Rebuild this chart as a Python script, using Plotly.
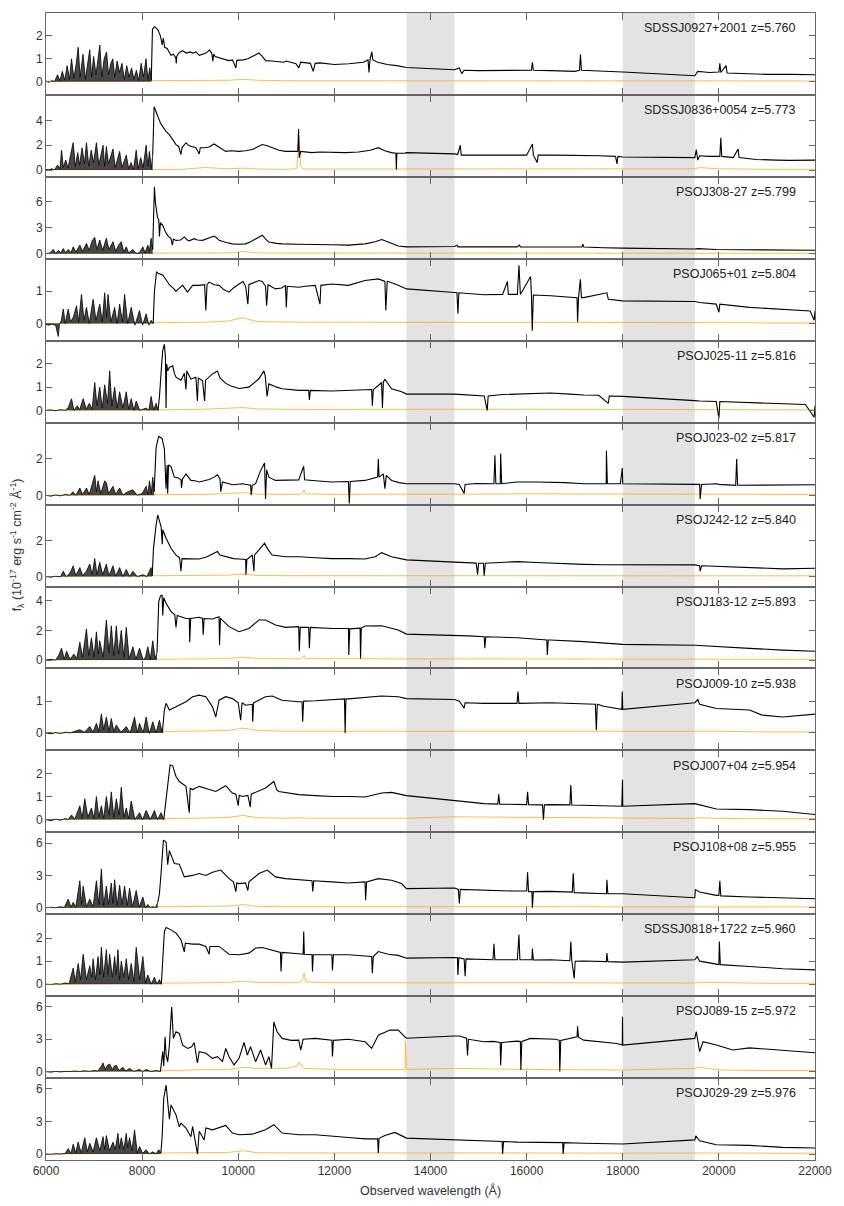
import plotly.graph_objects as go
from plotly.subplots import make_subplots

# Quasar names / redshifts, top to bottom
NAMES = ["SDSSJ0927+2001", "SDSSJ0836+0054", "PSOJ308-27", "PSOJ065+01", "PSOJ025-11",
         "PSOJ023-02", "PSOJ242-12", "PSOJ183-12", "PSOJ009-10", "PSOJ007+04",
         "PSOJ108+08", "SDSSJ0818+1722", "PSOJ089-15", "PSOJ029-29"]
REDSHIFTS = ["5.760", "5.773", "5.799", "5.804", "5.816", "5.817", "5.840",
             "5.893", "5.938", "5.954", "5.955", "5.960", "5.972", "5.976"]
# wavelength where the Lyman forest ends
BREAKS = [8190, 8220, 8220, 8230, 8330, 8250, 8210, 8310, 8420, 8450, 8325, 8400, 8380, 8390]

Y_MIN = [-0.58, -0.55, -0.58, -0.53, -0.53, -0.51, -0.55, -0.56, -0.55, -0.55, -0.6, -0.52, -0.6, -0.55]
Y_MAX = [3.0, 6.05, 8.9, 2.0, 3.0, 4.0, 4.0, 4.95, 2.03, 3.0, 7.0, 3.04, 7.0, 7.0]
Y_TICKS = [[0, 1, 2], [0, 2, 4], [0, 3, 6], [0, 1], [0, 1, 2], [0, 2], [0, 2], [0, 2, 4],
           [0, 1], [0, 1, 2], [0, 3, 6], [0, 1, 2], [0, 3, 6], [0, 3, 6]]
X_TICKS = [6000, 8000, 10000, 12000, 14000, 16000, 18000, 20000, 22000]
GAPS = [(13500, 14500), (18000, 19500)]

# spectra: (wavelength [A], flux [1e-17 erg/s/cm2/A])
SPEC_0927 = [(6000,0.02),(6060,-0.03),(6120,0.04),(6180,0.01),(6240,0.3),(6290,0.04),(6340,0.45),(6390,0.06),(6440,0.7),(6490,0.1),(6530,1.0),(6580,0.15),(6630,0.8),(6670,1.5),(6710,0.2),(6770,1.2),(6820,0.1),(6870,0.9),(6910,1.4),(6950,0.2),(6990,1.1),(7040,0.3),(7080,0.9),(7120,1.6),(7160,0.2),(7210,1.0),(7260,1.3),(7300,0.3),(7350,0.8),(7390,1.0),(7430,0.2),(7480,0.9),(7530,0.4),(7580,0.8),(7630,0.1),(7680,0.7),(7730,0.2),(7780,0.6),(7830,0.1),(7880,0.5),(7930,0.05),(7980,0.8),(8030,0.2),(8080,1.0),(8120,0.1),(8160,0.6),(8190,0.05),
             (8215,2.3),(8260,2.4),(8330,2.25),(8380,2.0),(8420,1.6),(8440,1.9),(8470,1.5),(8520,1.45),(8560,1.3),(8600,1.15),(8650,1.2),(8700,1.05),(8710,0.8),(8720,1.1),(8760,1.25),(8840,1.35),(8920,1.25),(9000,1.3),(9060,1.25),(9120,1.3),(9190,1.15),(9260,1.2),(9330,1.25),(9400,1.38),(9450,1.25),(9470,0.9),(9490,1.2),(9520,1.1),(9600,1.05),(9700,1.0),(9800,0.92),(9880,0.95),(9950,0.6),(9970,0.93),(10100,0.95),(10200,1.0),(10300,1.1),(10430,1.25),(10500,1.1),(10570,0.92),(10700,0.9),(10850,0.88),(10950,0.85),(11000,0.9),(11200,0.78),(11260,0.6),(11300,0.85),(11500,0.8),(11560,0.45),(11600,0.8),(11700,0.82),(12000,0.75),(12300,0.78),(12600,0.85),(12700,0.95),(12720,0.4),(12740,0.95),(12780,1.3),(12800,0.95),(12900,0.85),(13100,0.75),(13300,0.7),(13500,0.62),
             (14500,0.52),(14600,0.6),(14650,0.35),(14700,0.5),(15000,0.48),(15500,0.5),(16000,0.5),(16100,0.5),(16120,0.84),(16140,0.5),(16500,0.48),(17000,0.45),(17100,0.5),(17120,1.2),(17140,0.5),(17500,0.48),(17800,0.45),(18000,0.42),
             (19500,0.26),(19560,0.45),(19700,0.42),(19800,0.4),(20000,0.42),(20020,0.8),(20040,0.4),(20150,0.7),(20170,0.38),(20500,0.35),(21000,0.32),(21500,0.32),(22000,0.3)]

SPEC_0836 = [(6000,0.05),(6060,0.0),(6120,0.1),(6180,0.02),(6240,0.4),(6290,0.1),(6324,1.6),(6360,0.2),(6410,0.8),(6460,0.15),(6510,1.2),(6566,2.2),(6610,0.3),(6660,1.4),(6700,0.4),(6750,1.8),(6800,0.5),(6842,2.2),(6890,0.3),(6940,1.6),(6990,0.6),(7049,2.2),(7100,0.4),(7150,1.5),(7187,2.0),(7220,0.3),(7256,1.9),(7300,0.5),(7350,1.2),(7394,1.7),(7440,0.2),(7490,1.0),(7532,1.5),(7580,0.2),(7630,0.8),(7670,1.2),(7720,0.1),(7770,0.6),(7820,0.05),(7877,1.6),(7920,0.1),(7970,1.0),(8020,0.2),(8084,2.0),(8120,0.3),(8153,1.5),(8190,0.1),(8220,1.2),
             (8250,5.1),(8290,4.7),(8325,4.3),(8380,3.8),(8429,3.5),(8500,3.1),(8567,2.85),(8636,2.4),(8705,2.05),(8760,1.9),(8808,1.25),(8830,1.8),(8912,2.2),(8980,1.95),(9050,1.85),(9120,1.8),(9188,1.3),(9210,1.8),(9300,1.8),(9395,1.85),(9499,2.1),(9560,1.95),(9601,1.8),(9740,1.5),(9850,1.55),(10016,1.5),(10150,1.55),(10292,1.65),(10400,1.85),(10499,2.05),(10600,1.95),(10706,1.8),(10850,1.6),(10982,1.5),(11150,1.5),(11240,1.5),(11255,3.3),(11270,1.0),(11300,1.5),(11531,1.4),(11700,1.45),(12000,1.4),(12221,1.4),(12500,1.45),(12750,1.6),(12911,1.8),(13050,1.55),(13187,1.4),(13280,1.35),(13290,0.05),(13300,1.35),(13463,1.35),(13500,1.4),
             (14500,1.3),(14567,1.25),(14620,2.0),(14640,1.2),(14980,1.2),(15200,1.2),(15670,1.2),(16000,1.2),(16120,2.1),(16140,1.2),(16220,0.6),(16240,1.2),(16600,1.2),(16913,1.2),(17300,1.15),(17500,1.15),(17850,1.1),(17880,0.5),(17900,1.1),(18000,1.05),
             (19500,1.0),(19530,1.65),(19560,0.8),(19600,1.15),(19800,1.1),(20020,1.1),(20040,2.6),(20060,1.1),(20300,1.0),(20400,1.7),(20420,1.0),(20775,0.85),(21200,0.8),(21465,0.78),(22000,0.8)]

SPEC_308 = [(6000,0.02),(6080,0.1),(6152,0.5),(6200,0.05),(6260,0.4),(6310,0.1),(6359,0.6),(6410,0.1),(6460,0.5),(6520,0.15),(6566,0.8),(6620,0.2),(6704,1.0),(6760,0.3),(6842,1.2),(6900,0.4),(6960,1.5),(7014,1.9),(7060,0.5),(7118,1.6),(7180,0.4),(7256,1.8),(7310,0.5),(7394,1.4),(7450,0.3),(7510,1.0),(7566,1.4),(7620,0.2),(7670,0.8),(7720,0.1),(7808,0.5),(7870,0.05),(7940,0.1),(8015,0.8),(8060,0.1),(8118,1.0),(8150,0.3),(8187,1.8),(8220,0.5),
            (8256,7.75),(8275,6.0),(8290,5.4),(8320,4.2),(8346,3.95),(8360,2.0),(8380,3.6),(8429,3.3),(8480,2.6),(8532,2.1),(8601,1.75),(8630,1.0),(8650,1.7),(8705,1.55),(8800,1.6),(8877,1.95),(8940,1.6),(8981,1.5),(9084,1.75),(9150,1.6),(9257,1.55),(9400,1.8),(9499,2.05),(9560,1.8),(9601,1.55),(9750,1.3),(9878,1.15),(10000,1.1),(10154,1.15),(10260,1.4),(10361,1.75),(10499,2.15),(10570,1.7),(10637,1.35),(10800,1.2),(10913,1.15),(11258,1.1),(11603,1.1),(11948,1.05),(12293,1.0),(12638,1.15),(12850,1.4),(12983,1.65),(13121,1.35),(13328,0.9),(13500,0.8),
            (14500,0.85),(14550,1.0),(14570,0.8),(15000,0.8),(15807,0.8),(15850,1.0),(15870,0.8),(16500,0.78),(17150,0.8),(17170,1.1),(17190,0.78),(17600,0.7),(18000,0.65),
            (19500,0.55),(19560,0.6),(19946,0.5),(20637,0.47),(21300,0.45),(22000,0.4)]

SPEC_065 = [(6000,-0.03),(6060,-0.05),(6120,-0.02),(6200,-0.05),(6255,-0.4),(6280,-0.02),(6320,0.1),(6359,0.45),(6400,0.0),(6463,0.45),(6510,0.05),(6570,0.2),(6635,0.55),(6680,0.05),(6738,0.9),(6790,0.1),(6842,0.5),(6900,0.0),(6980,0.75),(7040,0.1),(7118,0.6),(7170,0.05),(7221,0.95),(7260,0.2),(7290,0.9),(7350,0.05),(7428,0.5),(7480,0.0),(7532,0.6),(7590,0.05),(7635,0.9),(7700,0.0),(7773,0.5),(7850,-0.05),(7946,0.4),(8010,-0.05),(8084,0.3),(8140,-0.05),(8187,0.1),(8230,0.0),
            (8256,1.0),(8300,1.6),(8330,1.55),(8429,1.5),(8500,1.35),(8567,1.2),(8640,1.1),(8705,1.0),(8780,1.1),(8843,1.18),(8946,0.97),(9000,1.1),(9050,1.18),(9188,1.18),(9300,1.2),(9326,0.4),(9350,1.2),(9395,1.28),(9500,1.2),(9601,1.18),(9700,1.05),(9809,0.97),(9900,1.1),(10016,1.22),(10100,1.3),(10154,1.15),(10200,0.6),(10223,1.2),(10300,1.25),(10430,1.33),(10500,1.3),(10568,1.15),(10590,0.55),(10620,1.2),(10775,1.07),(10900,1.1),(10982,1.18),(11000,0.5),(11020,1.15),(11258,1.12),(11400,1.15),(11603,1.18),(11700,0.6),(11720,1.18),(11948,1.22),(12293,1.18),(12638,1.33),(12914,1.38),(13052,1.3),(13070,0.4),(13100,1.3),(13121,1.3),(13328,1.18),(13500,1.07),
            (14500,0.96),(14550,0.95),(14570,0.3),(14590,0.95),(15117,0.89),(15500,0.9),(15600,1.3),(15620,0.9),(15807,0.9),(15841,1.8),(15870,0.9),(16083,1.45),(16100,0.9),(16117,-0.22),(16140,0.88),(16497,0.86),(17049,0.8),(17060,0.05),(17080,0.8),(17118,1.37),(17140,0.8),(17187,0.8),(17670,0.95),(17700,0.75),(18000,0.7),
            (19500,0.68),(19600,0.65),(19946,0.6),(20000,0.35),(20020,0.6),(20637,0.5),(21327,0.44),(21900,0.39),(21983,0.1),(22000,0.39)]

SPEC_025 = [(6000,0.0),(6100,0.02),(6200,-0.02),(6300,0.03),(6400,0.0),(6460,0.1),(6531,0.5),(6580,0.0),(6650,0.2),(6700,0.02),(6773,0.5),(6840,0.05),(6900,0.3),(6960,0.05),(7014,1.2),(7060,0.2),(7118,1.0),(7170,0.1),(7221,1.1),(7280,0.3),(7325,1.7),(7370,0.2),(7428,1.0),(7480,0.1),(7532,0.8),(7600,0.1),(7670,0.8),(7720,0.05),(7773,0.5),(7830,0.0),(7877,0.4),(7950,0.0),(8020,0.05),(8084,0.1),(8140,0.0),(8187,0.6),(8240,0.0),(8290,0.3),(8330,0.0),
            (8360,0.57),(8400,1.8),(8429,2.57),(8463,2.85),(8485,2.3),(8498,0.1),(8510,2.0),(8532,1.7),(8567,1.85),(8636,1.92),(8670,1.6),(8705,1.43),(8808,1.3),(8880,1.6),(8912,0.9),(8930,1.7),(9015,1.35),(9119,1.43),(9150,0.4),(9170,1.4),(9257,1.27),(9300,0.4),(9320,1.3),(9464,1.57),(9567,1.69),(9620,1.4),(9740,1.16),(9850,1.05),(10016,0.94),(10223,1.0),(10430,1.36),(10534,1.7),(10560,1.5),(10600,0.6),(10637,1.14),(10800,1.0),(10913,0.93),(11258,0.86),(11465,0.86),(11480,0.45),(11500,0.86),(11948,0.83),(12300,0.85),(12638,0.86),(12776,0.9),(12790,0.2),(12810,0.9),(12914,1.07),(12983,1.2),(13000,0.1),(13020,1.25),(13052,1.33),(13190,0.93),(13400,0.8),(13500,0.7),
            (14500,0.7),(14800,0.65),(15117,0.62),(15180,0.0),(15200,0.62),(15500,0.68),(15807,0.7),(16200,0.72),(16497,0.75),(16900,0.7),(17187,0.66),(17500,0.65),(17700,0.3),(17720,0.62),(18000,0.6),
            (19500,0.42),(19600,0.4),(19946,0.38),(20000,-0.35),(20020,0.38),(20637,0.33),(21300,0.28),(21800,0.25),(21983,-0.3),(22000,0.2)]

SPEC_023 = [(6000,0.0),(6100,-0.05),(6200,0.02),(6300,-0.03),(6400,0.05),(6500,0.0),(6560,0.2),(6620,0.0),(6704,0.4),(6760,0.05),(6842,0.4),(6900,0.05),(6960,0.6),(7014,1.1),(7050,0.2),(7083,0.8),(7140,0.1),(7221,0.8),(7256,0.7),(7300,0.1),(7394,0.5),(7450,0.05),(7532,0.4),(7600,0.02),(7700,0.2),(7808,0.3),(7900,0.0),(8000,0.1),(8084,0.5),(8120,0.05),(8153,0.8),(8190,0.1),(8222,1.0),(8250,0.2),
            (8291,2.64),(8346,3.24),(8415,3.13),(8463,2.55),(8490,1.0),(8498,0.36),(8520,1.67),(8532,0.1),(8550,1.67),(8601,1.58),(8670,1.0),(8750,0.95),(8808,0.87),(8820,0.4),(8840,0.9),(8912,1.18),(9015,0.82),(9100,0.8),(9188,0.73),(9300,0.8),(9395,0.87),(9500,1.0),(9567,1.13),(9620,0.9),(9636,0.2),(9671,0.73),(9878,0.58),(10085,0.64),(10257,0.55),(10270,0.0),(10292,0.55),(10361,0.64),(10465,1.36),(10547,1.78),(10568,-0.2),(10590,1.4),(10637,1.0),(10775,0.82),(11000,0.85),(11258,0.85),(11362,1.6),(11380,0.85),(11600,0.8),(11948,0.73),(12100,0.75),(12293,0.76),(12310,-0.45),(12330,0.76),(12638,0.82),(12900,1.0),(12914,2.0),(12930,1.0),(13018,1.18),(13052,0.36),(13080,1.1),(13190,0.82),(13350,0.7),(13500,0.64),
            (14500,0.64),(14600,0.6),(14700,0.1),(14720,0.6),(14950,0.65),(15117,0.64),(15320,0.64),(15340,2.2),(15360,0.64),(15450,0.64),(15460,2.3),(15480,0.64),(15807,0.73),(16200,0.73),(16497,0.73),(16800,0.7),(17187,0.64),(17656,0.64),(17660,2.45),(17680,0.64),(17950,0.64),(17990,1.5),(18000,0.64),
            (19500,0.64),(19600,0.6),(19610,-0.2),(19640,0.6),(19946,0.64),(20000,0.6),(20350,0.55),(20370,2.0),(20390,0.55),(20637,0.55),(21327,0.55),(22000,0.58)]

SPEC_242 = [(6000,0.0),(6100,-0.03),(6200,0.02),(6300,-0.02),(6359,0.3),(6420,0.0),(6500,0.2),(6566,0.6),(6620,0.05),(6704,0.5),(6760,0.05),(6840,0.3),(6911,0.7),(6960,0.1),(7014,1.0),(7060,0.1),(7118,0.8),(7180,0.1),(7256,0.7),(7310,0.05),(7394,0.6),(7450,0.02),(7532,0.5),(7600,0.0),(7670,0.4),(7740,0.0),(7808,0.3),(7900,0.0),(8015,0.1),(8100,0.0),(8187,0.5),(8210,0.05),
            (8236,1.57),(8291,2.87),(8325,3.43),(8394,2.78),(8420,1.8),(8429,2.6),(8498,2.13),(8601,1.57),(8705,1.2),(8780,1.05),(8808,0.3),(8830,1.0),(8843,1.0),(9000,0.98),(9188,0.98),(9350,1.1),(9464,1.24),(9567,1.39),(9620,1.2),(9740,1.1),(9900,1.0),(10016,0.98),(10154,0.95),(10160,0.1),(10180,0.95),(10292,1.2),(10326,0.3),(10340,1.2),(10465,1.57),(10547,1.85),(10620,1.5),(10706,1.2),(10982,1.1),(11258,1.1),(11600,1.05),(11948,1.0),(12300,1.0),(12638,0.98),(12850,1.1),(12983,1.33),(13100,1.2),(13190,1.1),(13500,0.93),
            (14500,0.83),(14800,0.8),(14950,0.75),(14980,0.1),(15000,0.74),(15100,0.74),(15117,0.05),(15140,0.74),(15400,0.78),(15807,0.83),(16200,0.78),(16497,0.74),(17187,0.68),(17600,0.66),(18000,0.65),
            (19500,0.65),(19600,0.6),(19610,0.3),(19640,0.6),(19900,0.58),(20637,0.5),(21327,0.43),(22000,0.46)]

SPEC_183 = [(6000,0.0),(6100,0.05),(6200,0.0),(6260,0.3),(6324,0.8),(6380,0.05),(6428,0.6),(6500,0.05),(6580,0.4),(6640,0.1),(6704,1.2),(6760,0.2),(6842,2.1),(6890,0.3),(6945,1.5),(7000,0.2),(7049,1.9),(7090,0.4),(7118,1.3),(7190,0.2),(7256,2.7),(7310,0.5),(7359,2.3),(7410,0.3),(7463,2.3),(7510,0.4),(7566,2.0),(7620,0.2),(7670,2.2),(7730,0.1),(7808,0.9),(7870,0.05),(7946,0.8),(8020,0.0),(8070,0.2),(8118,0.9),(8170,0.05),(8222,1.3),(8270,0.1),(8310,0.5),
            (8346,3.93),(8380,4.3),(8415,4.38),(8429,3.0),(8450,4.2),(8498,3.82),(8601,3.26),(8680,3.05),(8705,2.2),(8730,3.0),(8912,2.8),(8981,2.8),(8990,1.2),(9010,2.8),(9188,2.88),(9257,2.8),(9270,1.7),(9290,2.8),(9464,2.76),(9601,2.92),(9610,1.0),(9630,2.8),(9809,2.25),(10016,1.91),(10223,2.13),(10430,2.7),(10568,2.7),(10775,2.36),(10982,2.2),(11258,2.25),(11270,0.6),(11290,2.2),(11465,2.2),(11480,0.8),(11500,2.2),(11948,2.13),(12293,2.13),(12300,0.35),(12320,2.1),(12535,2.15),(12545,0.1),(12560,2.15),(12638,2.29),(12983,2.31),(13328,2.02),(13500,1.75),
            (14500,1.69),(14800,1.63),(15117,1.57),(15130,0.8),(15150,1.57),(15807,1.5),(16420,1.35),(16430,0.35),(16450,1.35),(16497,1.35),(17187,1.24),(18000,1.06),
            (19500,1.0),(19946,0.9),(20637,0.79),(21327,0.67),(22000,0.6)]

SPEC_009 = [(6000,0.0),(6100,-0.03),(6200,0.01),(6300,-0.02),(6400,0.02),(6500,0.0),(6600,0.05),(6704,0.1),(6800,0.02),(6911,0.2),(6980,0.03),(7049,0.3),(7100,0.05),(7152,0.6),(7200,0.1),(7256,0.5),(7310,0.05),(7359,0.45),(7410,0.05),(7463,0.25),(7560,0.02),(7670,0.2),(7750,0.0),(7842,0.5),(7900,0.0),(7946,0.3),(8020,0.0),(8084,0.5),(8150,-0.02),(8222,0.35),(8290,0.0),(8360,0.4),(8420,0.0),
            (8463,0.72),(8498,0.93),(8567,0.72),(8705,0.82),(8912,0.98),(9050,1.14),(9188,1.19),(9326,1.14),(9464,0.82),(9533,0.5),(9601,1.03),(9740,1.14),(9878,1.08),(10000,0.95),(10050,0.4),(10080,0.95),(10154,0.87),(10292,0.9),(10300,0.35),(10320,0.95),(10361,0.98),(10568,1.14),(10706,1.16),(10913,1.03),(11258,0.98),(11327,0.98),(11340,0.35),(11360,1.0),(11603,1.01),(11948,1.05),(12210,1.07),(12224,0.0),(12240,1.07),(12293,1.07),(12638,1.12),(12983,1.16),(13328,1.14),(13500,1.08),
            (14500,1.05),(14600,1.0),(14700,0.78),(14720,0.95),(15117,0.93),(15800,0.93),(15820,1.3),(15840,0.93),(16497,0.95),(17187,0.9),(17430,0.9),(17450,0.08),(17470,0.9),(17600,0.84),(17980,0.74),(17990,1.3),(18000,0.74),
            (19500,0.95),(19560,1.05),(19600,0.9),(19946,0.77),(20637,0.72),(20900,0.56),(21327,0.5),(22000,0.59)]

SPEC_007 = [(6000,0.0),(6100,-0.05),(6200,0.02),(6300,-0.03),(6400,0.05),(6460,0.0),(6531,0.2),(6600,0.02),(6704,0.6),(6750,0.05),(6807,0.9),(6870,0.1),(6945,0.5),(7000,0.05),(7049,1.0),(7100,0.1),(7152,0.6),(7200,0.05),(7256,1.0),(7310,0.2),(7359,1.2),(7410,0.1),(7463,0.9),(7520,0.2),(7566,1.4),(7620,0.1),(7670,0.5),(7720,0.05),(7773,0.8),(7850,0.0),(7946,0.3),(8010,0.0),(8084,0.4),(8170,0.0),(8256,0.4),(8320,0.0),(8394,0.3),(8450,0.0),
            (8498,0.86),(8532,1.73),(8581,2.37),(8636,2.33),(8705,1.87),(8774,1.65),(8912,1.44),(8981,0.3),(9000,1.35),(9050,1.3),(9188,1.44),(9395,1.3),(9533,1.22),(9740,1.47),(9878,1.15),(9950,1.1),(10000,0.6),(10020,1.05),(10085,1.0),(10200,1.05),(10250,0.55),(10270,1.1),(10292,1.12),(10568,1.37),(10740,1.65),(10800,1.3),(10844,1.22),(11051,1.15),(11258,1.08),(11603,1.04),(11948,1.0),(12293,1.0),(12638,0.98),(12983,1.15),(13190,1.18),(13500,1.04),
            (14500,0.83),(14800,0.75),(15117,0.69),(15400,0.67),(15420,1.1),(15440,0.67),(15807,0.65),(16000,0.65),(16020,1.2),(16040,0.65),(16330,0.64),(16350,0.0),(16370,0.64),(16497,0.65),(16900,0.64),(16920,1.5),(16940,0.63),(17187,0.62),(17980,0.58),(17995,1.73),(18000,0.58),
            (19500,0.69),(19946,0.46),(20637,0.43),(21327,0.36),(22000,0.22)]

SPEC_108 = [(6000,0.0),(6100,0.05),(6200,0.0),(6300,0.1),(6380,0.02),(6462,0.8),(6520,0.05),(6566,0.5),(6620,0.05),(6704,2.5),(6740,0.3),(6773,2.0),(6840,0.1),(6911,0.8),(6980,0.1),(7049,2.5),(7100,0.3),(7152,3.6),(7200,0.2),(7256,2.0),(7300,0.3),(7359,2.3),(7390,0.4),(7428,2.6),(7480,0.2),(7532,2.1),(7580,0.3),(7635,2.0),(7690,0.2),(7739,1.8),(7800,0.1),(7877,1.6),(7940,0.05),(8015,1.0),(8070,0.0),(8118,0.3),(8170,0.0),(8222,0.1),(8280,0.0),(8325,0.5),
            (8360,1.3),(8394,3.2),(8443,6.27),(8498,6.1),(8532,4.0),(8567,5.3),(8670,4.1),(8774,4.04),(8877,2.86),(9050,3.0),(9188,3.17),(9326,3.0),(9464,3.3),(9636,3.5),(9809,2.7),(9900,2.4),(9950,1.5),(9970,2.3),(10016,2.24),(10150,2.3),(10200,1.6),(10223,2.4),(10430,3.17),(10603,3.5),(10775,2.86),(10982,2.7),(11258,2.6),(11534,2.5),(11550,1.5),(11570,2.5),(11948,2.4),(12293,2.3),(12638,2.4),(12650,0.7),(12670,2.4),(12914,2.7),(13190,2.55),(13397,2.24),(13500,1.77),
            (14500,1.83),(14580,1.7),(14600,0.4),(14620,1.7),(15117,1.6),(15700,1.55),(15807,1.55),(16000,1.55),(16020,3.3),(16040,1.5),(16110,1.5),(16120,0.0),(16140,1.5),(16497,1.52),(16950,1.45),(16970,3.2),(16990,1.4),(17187,1.37),(17660,1.3),(17670,2.6),(17690,1.3),(18000,1.3),
            (19500,0.93),(19510,1.68),(19600,1.46),(19946,1.15),(20000,1.15),(20020,2.5),(20040,1.1),(20637,1.0),(21327,0.93),(22000,0.84)]

SPEC_0818 = [(6000,0.0),(6100,-0.02),(6200,0.02),(6300,0.0),(6400,0.05),(6480,0.02),(6566,0.7),(6610,0.1),(6669,0.9),(6720,0.2),(6773,1.3),(6840,0.2),(6911,0.8),(6950,0.3),(6980,1.1),(7030,0.2),(7083,1.2),(7120,0.4),(7152,1.6),(7200,0.3),(7256,1.5),(7290,0.4),(7325,1.3),(7380,0.3),(7428,1.2),(7460,0.4),(7497,1.5),(7530,0.2),(7566,1.0),(7620,0.3),(7670,1.1),(7720,0.2),(7773,0.9),(7830,0.1),(7877,1.6),(7950,0.2),(8015,1.2),(8070,0.05),(8118,0.4),(8190,0.0),(8256,0.3),(8310,0.0),(8360,0.2),(8400,0.0),
             (8429,1.13),(8463,2.29),(8498,2.46),(8601,2.36),(8705,2.22),(8808,1.93),(8877,1.4),(8900,1.8),(8912,1.78),(9050,1.74),(9188,1.74),(9326,1.64),(9395,1.3),(9410,1.64),(9464,1.64),(9601,1.64),(9809,1.3),(10016,1.28),(10223,1.35),(10361,1.57),(10499,1.59),(10706,1.49),(10878,1.38),(10890,0.55),(10910,1.38),(11258,1.32),(11350,1.3),(11362,2.29),(11375,1.3),(11534,1.28),(11545,0.55),(11560,1.28),(11948,1.28),(11960,0.6),(11980,1.28),(12293,1.28),(12638,1.23),(12776,1.2),(12790,0.48),(12810,1.2),(12914,1.42),(13121,1.3),(13328,1.25),(13500,1.13),
             (14500,1.16),(14560,1.15),(14570,0.4),(14590,1.15),(14700,1.1),(14720,0.35),(14740,1.1),(15117,1.06),(15300,1.06),(15320,1.75),(15340,1.06),(15807,1.06),(15840,2.15),(15860,1.06),(16110,1.06),(16120,1.55),(16140,1.05),(16497,1.06),(16900,1.02),(16920,1.85),(16940,1.02),(16990,0.25),(17010,1.0),(17187,1.01),(17660,0.98),(17670,1.35),(17690,0.98),(18000,0.96),
             (19500,1.06),(19550,1.2),(19600,1.0),(19946,0.87),(20000,0.85),(20010,1.85),(20030,0.85),(20637,0.77),(21327,0.67),(22000,0.62)]

SPEC_089 = [(6000,0.0),(6100,-0.05),(6200,0.02),(6300,-0.03),(6400,0.02),(6500,0.0),(6600,0.05),(6700,0.0),(6800,0.08),(6900,0.02),(7000,0.1),(7080,0.05),(7150,0.5),(7187,0.8),(7230,0.2),(7280,0.6),(7325,0.7),(7380,0.2),(7420,0.5),(7463,0.6),(7520,0.1),(7601,0.4),(7660,0.05),(7739,0.3),(7820,0.02),(7946,0.2),(8010,0.0),(8084,0.2),(8180,0.0),(8291,0.1),(8380,0.0),
            (8429,1.85),(8450,0.5),(8477,3.23),(8500,1.5),(8532,0.9),(8567,2.46),(8615,6.0),(8650,3.08),(8705,3.7),(8774,3.54),(8843,2.46),(8946,2.15),(9030,2.3),(9084,2.7),(9150,0.8),(9188,1.85),(9326,1.7),(9464,1.23),(9567,1.38),(9671,0.92),(9740,2.15),(9809,1.38),(9912,0.62),(10016,1.23),(10120,2.7),(10189,1.54),(10257,2.3),(10361,0.92),(10465,2.0),(10568,0.62),(10637,1.38),(10692,0.3),(10740,4.6),(10809,3.7),(10913,3.08),(11100,2.9),(11258,2.92),(11300,2.0),(11350,3.0),(11603,3.08),(11948,2.92),(11960,1.4),(11980,2.9),(12293,3.0),(12638,2.77),(12776,2.15),(12914,3.38),(13156,3.85),(13328,3.85),(13466,3.23),(13500,3.1),
            (14500,3.3),(14600,3.3),(14750,3.1),(14770,1.5),(14790,3.0),(15117,2.77),(15300,2.8),(15450,2.7),(15460,0.6),(15480,2.7),(15807,2.83),(15870,2.8),(15880,0.15),(15900,2.8),(16083,3.08),(16600,3.0),(16680,2.9),(16690,0.0),(16710,2.9),(16800,3.0),(17050,3.23),(17060,4.2),(17080,3.2),(17187,2.92),(17877,2.6),(17990,2.46),(17995,5.08),(18000,2.46),
            (19500,3.08),(19530,3.7),(19600,1.85),(19670,2.77),(19946,2.46),(20290,2.0),(20637,2.2),(21327,1.94),(22000,1.75)]

SPEC_029 = [(6000,0.0),(6100,-0.03),(6200,0.02),(6300,0.0),(6400,0.05),(6462,0.5),(6520,0.05),(6566,0.9),(6620,0.1),(6669,1.1),(6730,0.1),(6807,1.5),(6860,0.2),(6911,1.0),(6980,0.2),(7049,1.5),(7120,0.3),(7187,1.6),(7220,0.4),(7256,1.7),(7320,0.3),(7394,1.1),(7440,0.4),(7497,1.9),(7530,0.5),(7566,1.5),(7620,0.4),(7670,1.9),(7700,0.6),(7739,1.5),(7790,0.3),(7842,2.2),(7900,0.1),(7946,0.7),(8010,0.05),(8084,0.4),(8150,0.0),(8222,0.2),(8290,0.0),(8346,0.4),(8390,0.1),
            (8415,1.47),(8450,5.14),(8498,6.36),(8532,4.83),(8567,3.2),(8601,4.53),(8705,3.6),(8774,2.5),(8808,2.84),(8912,2.4),(9015,1.6),(9050,2.54),(9153,0.0),(9188,2.1),(9291,1.3),(9326,2.4),(9464,2.23),(9740,2.63),(9878,1.93),(10016,1.77),(10292,1.83),(10568,2.23),(10740,2.7),(10913,1.93),(11258,1.77),(11603,1.77),(11948,1.62),(12293,1.53),(12638,1.4),(12900,1.4),(12914,0.1),(12930,1.45),(13052,1.7),(13259,1.99),(13500,1.47),
            (14500,1.3),(15117,1.16),(15490,1.15),(15500,0.0),(15520,1.15),(15807,1.1),(16497,1.1),(16750,1.05),(16760,0.0),(16780,1.05),(17187,1.0),(18000,0.92),
            (19500,1.3),(19520,1.68),(19600,1.22),(19946,0.86),(20637,0.8),(21327,0.61),(22000,0.55)]

SPECTRA = [SPEC_0927, SPEC_0836, SPEC_308, SPEC_065, SPEC_025, SPEC_023, SPEC_242,
           SPEC_183, SPEC_009, SPEC_007, SPEC_108, SPEC_0818, SPEC_089, SPEC_029]

# error spectra, sampled on a common grid
ERR_WAVE = [6000, 7500, 8300, 8800, 9300, 9800, 10100, 10400, 11000, 11220, 11260, 11300, 11340, 11370,
            11400, 12000, 13000, 13470, 13480, 13500, 14500, 16000, 18000, 19500, 19600, 20000, 21000, 22000]
ERR_0927 = [0.02,0.03,0.02,0.03,0.05,0.06,0.1,0.06,0.04,0.04,0.05,0.04,0.04,0.04,0.04,0.04,0.04,0.04,0.04,0.04,0.04,0.04,0.04,0.03,0.05,0.04,0.03,0.03]
ERR_0836 = [0.02,0.03,0.03,0.05,0.2,0.1,0.15,0.08,0.06,0.1,2.6,0.3,0.1,0.08,0.08,0.08,0.08,0.08,0.08,0.08,0.1,0.1,0.08,0.1,0.2,0.1,0.06,0.06]
ERR_308 = [0.05,0.05,0.05,0.08,0.1,0.1,0.25,0.1,0.08,0.08,0.1,0.08,0.08,0.08,0.08,0.08,0.08,0.08,0.08,0.08,0.1,0.1,0.08,0.08,0.1,0.08,0.06,0.06]
ERR_065 = [0.0,0.01,0.01,0.02,0.04,0.08,0.18,0.06,0.04,0.04,0.04,0.04,0.04,0.04,0.04,0.04,0.04,0.03,0.03,0.03,0.04,0.05,0.03,0.03,0.04,0.03,0.02,0.02]
ERR_025 = [0.0,0.01,0.01,0.03,0.05,0.08,0.12,0.06,0.04,0.04,0.04,0.04,0.04,0.04,0.04,0.04,0.05,0.04,0.04,0.04,0.04,0.05,0.04,0.03,0.04,0.03,0.02,0.02]
ERR_023 = [0.0,0.02,0.02,0.03,0.05,0.1,0.15,0.06,0.05,0.05,0.05,0.05,0.1,0.3,0.08,0.05,0.06,0.05,0.05,0.05,0.06,0.08,0.06,0.05,0.08,0.08,0.05,0.05]
ERR_242 = [0.0,0.02,0.02,0.03,0.05,0.08,0.15,0.06,0.05,0.05,0.05,0.05,0.05,0.05,0.05,0.05,0.05,0.05,0.05,0.05,0.05,0.05,0.04,0.04,0.06,0.08,0.04,0.04]
ERR_183 = [0.0,0.03,0.03,0.05,0.08,0.12,0.2,0.1,0.08,0.08,0.1,0.08,0.15,0.3,0.1,0.08,0.08,0.08,0.08,0.08,0.08,0.08,0.06,0.06,0.08,0.06,0.05,0.05]
ERR_009 = [0.0,0.02,0.02,0.05,0.06,0.08,0.15,0.08,0.05,0.05,0.05,0.05,0.05,0.06,0.05,0.05,0.05,0.05,0.05,0.05,0.05,0.05,0.04,0.04,0.05,0.05,0.03,0.03]
ERR_007 = [0.0,0.02,0.02,0.05,0.07,0.1,0.18,0.08,0.06,0.06,0.06,0.06,0.08,0.1,0.06,0.06,0.06,0.06,0.06,0.06,0.12,0.1,0.05,0.05,0.08,0.05,0.04,0.04]
ERR_108 = [0.0,0.05,0.05,0.08,0.1,0.15,0.3,0.12,0.1,0.1,0.1,0.1,0.12,0.15,0.1,0.1,0.1,0.1,0.1,0.1,0.1,0.1,0.08,0.08,0.1,0.1,0.08,0.08]
ERR_0818 = [0.0,0.02,0.02,0.05,0.06,0.08,0.12,0.08,0.06,0.06,0.1,0.08,0.2,0.48,0.1,0.06,0.06,0.05,0.05,0.05,0.06,0.06,0.05,0.05,0.08,0.06,0.04,0.04]
ERR_089 = [0.0,0.05,0.05,0.1,0.2,0.2,0.4,0.3,0.3,0.5,0.9,0.6,0.4,0.3,0.3,0.2,0.2,0.2,2.8,0.2,0.3,0.2,0.15,0.3,0.4,0.15,0.1,0.1]
ERR_029 = [0.0,0.05,0.05,0.08,0.1,0.15,0.3,0.12,0.1,0.1,0.1,0.1,0.12,0.15,0.1,0.1,0.1,0.1,0.1,0.1,0.1,0.1,0.08,0.1,0.15,0.1,0.08,0.08]

ERRORS = [ERR_0927, ERR_0836, ERR_308, ERR_065, ERR_025, ERR_023, ERR_242,
          ERR_183, ERR_009, ERR_007, ERR_108, ERR_0818, ERR_089, ERR_029]

FONT = "Liberation Sans, Arial, sans-serif"
AXIS_COL = "#666666"
N = len(NAMES)

fig = make_subplots(rows=N, cols=1, shared_xaxes=True, vertical_spacing=0)

for i in range(N):
    forest = [p for p in SPECTRA[i] if p[0] <= BREAKS[i]]
    redward = [p for p in SPECTRA[i] if p[0] >= BREAKS[i]]

    fig.add_trace(go.Scatter(x=ERR_WAVE, y=ERRORS[i], mode="lines",
                             line=dict(color="#ffa81a", width=0.8),
                             hoverinfo="skip", showlegend=False), row=i + 1, col=1)
    # Lyman forest: dense absorption, drawn as a dark filled band
    fig.add_trace(go.Scatter(x=[p[0] for p in forest], y=[p[1] for p in forest], mode="lines",
                             line=dict(color="black", width=0.8), fill="tozeroy",
                             fillcolor="rgba(0,0,0,0.72)",
                             hoverinfo="skip", showlegend=False), row=i + 1, col=1)
    fig.add_trace(go.Scatter(x=[p[0] for p in redward], y=[p[1] for p in redward], mode="lines",
                             line=dict(color="black", width=1.1),
                             hoverinfo="skip", showlegend=False), row=i + 1, col=1)
    fig.update_yaxes(range=[Y_MIN[i], Y_MAX[i]], tickvals=Y_TICKS[i], row=i + 1, col=1)

    ax = "" if i == 0 else str(i + 1)
    fig.add_annotation(text=f"{NAMES[i]} z={REDSHIFTS[i]}",
                       xref=f"x{ax} domain", yref=f"y{ax} domain",
                       x=0.978, y=0.815, xanchor="right", yanchor="middle",
                       showarrow=False, font=dict(family=FONT, size=12.5, color="#222"))

fig.update_xaxes(range=[6000, 22000], tickvals=X_TICKS, tickformat="d", ticks="inside", ticklen=7,
                 tickcolor=AXIS_COL, showline=True, linecolor=AXIS_COL, linewidth=1,
                 mirror="ticks", showgrid=False, zeroline=False, ticklabeloverflow="allow",
                 tickfont=dict(family=FONT, size=12, color="#333"))
fig.update_yaxes(ticks="inside", ticklen=6, tickcolor=AXIS_COL, showline=True,
                 linecolor=AXIS_COL, linewidth=1, mirror="ticks", showgrid=False,
                 zeroline=False, tickfont=dict(family=FONT, size=12, color="#333"))

# grey bands (telluric gaps), full height
for lo, hi in GAPS:
    fig.add_shape(type="rect", xref="x", yref="paper", x0=lo, x1=hi, y0=0, y1=1,
                  fillcolor="#e3e3e3", line=dict(width=0), layer="below")

fig.add_annotation(text="Observed wavelength (Å)", xref="paper", yref="paper",
                   x=0.5, y=-0.027, xanchor="center", yanchor="middle", showarrow=False,
                   font=dict(family=FONT, size=12.5, color="#333"))
fig.add_annotation(text="f<sub>λ</sub> (10<sup>-17</sup> erg s<sup>-1</sup> cm<sup>-2</sup> Å<sup>-1</sup>)",
                   xref="paper", yref="paper", x=-0.0375, y=0.536, textangle=-90,
                   xanchor="center", yanchor="middle", showarrow=False,
                   font=dict(family=FONT, size=12.5, color="#333"))

# page body has an 8px margin, so the figure is 16px smaller than the window
fig.update_layout(width=828, height=1190, paper_bgcolor="white", plot_bgcolor="white",
                  margin=dict(l=38, r=17, t=4, b=38), showlegend=False)

fig.write_html("out.html")
